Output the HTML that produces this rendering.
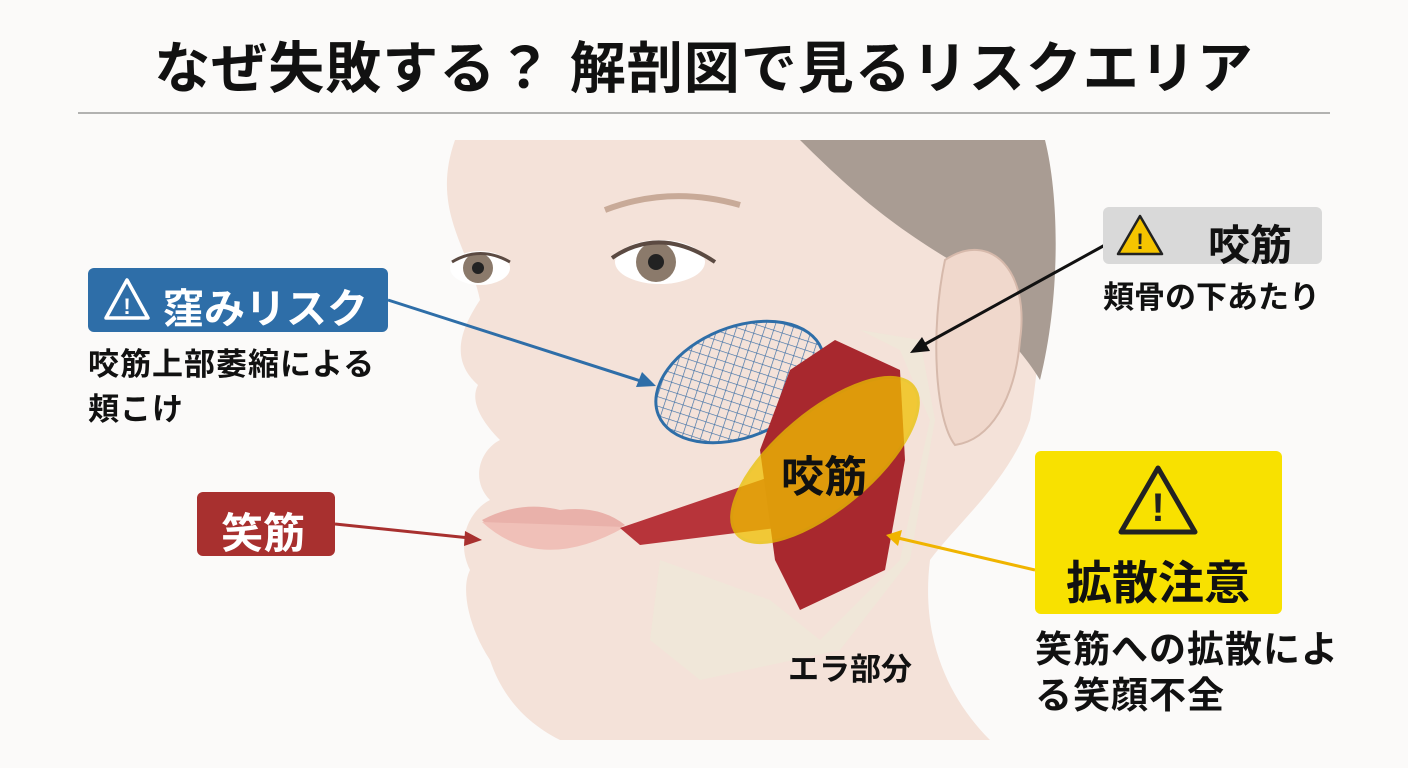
<!DOCTYPE html>
<html><head><meta charset="utf-8"><style>
body{margin:0;width:1408px;height:768px;background:#fbfaf9;overflow:hidden;font-family:"Liberation Sans","Noto Sans CJK JP",sans-serif;position:relative}
.t{position:absolute;white-space:nowrap;font-weight:bold}
</style></head><body>
<svg width="1408" height="768" style="position:absolute;left:0;top:0">
<defs>
<pattern id="mesh" width="9" height="9" patternUnits="userSpaceOnUse" patternTransform="rotate(40)">
<path d="M0 0H9M0 0V9" stroke="#3a6ea5" stroke-width="1.3"/></pattern>
</defs>
<line x1="78" y1="113" x2="1330" y2="113" stroke="#999" stroke-width="1.5"/>
<path d="M455 140 L1000 140 C1040 200 1050 300 1030 420 C1010 480 960 520 930 560 C920 640 950 700 990 740 L560 740 C520 720 500 690 490 660 C470 630 460 590 470 570 C455 540 470 510 490 500 C470 480 480 450 500 440 C480 420 470 400 478 385 C450 360 460 330 480 300 C470 250 430 210 455 140Z" fill="#f4e2d9"/>
<path d="M800 140 L1045 140 C1060 200 1060 300 1040 380 C1010 330 960 300 950 260 C900 230 860 200 800 140Z" fill="#a99c93"/>
<path d="M945 260 C990 230 1030 270 1020 340 C1015 400 990 440 955 445 C935 420 930 330 945 260Z" fill="#f0d8cc" stroke="#d6b9ab" stroke-width="2"/>
<path d="M660 560 L770 600 L820 640 L900 560 L930 420 L900 350 L860 330 L920 340 L935 420 L910 560 L840 650 L700 680 L650 640Z" fill="#efe9d8" opacity=".8"/>
<ellipse cx="480" cy="268" rx="30" ry="17" fill="#fff"/><circle cx="478" cy="268" r="15" fill="#8b7a6b"/><circle cx="478" cy="268" r="6" fill="#222"/>
<ellipse cx="660" cy="262" rx="45" ry="22" fill="#fff"/><circle cx="656" cy="262" r="20" fill="#8b7a6b"/><circle cx="656" cy="262" r="8" fill="#222"/>
<path d="M612 258 Q660 225 715 262" stroke="#5b4a42" stroke-width="4" fill="none"/>
<path d="M452 262 Q480 245 510 262" stroke="#5b4a42" stroke-width="3" fill="none"/>
<path d="M605 210 Q670 185 740 205" stroke="#c8aa98" stroke-width="6" fill="none"/>
<path d="M482 520 Q520 500 560 510 Q600 505 625 525 Q590 545 540 545 Q500 540 482 520Z" fill="#e9b1aa"/>
<path d="M482 522 Q540 575 625 527" fill="#f0c0b8"/>
<ellipse cx="740" cy="382" rx="88" ry="55" transform="rotate(-22 740 382)" fill="url(#mesh)" stroke="#2e6ea8" stroke-width="3"/>
<path d="M620 528 L790 470 L800 525 L640 545Z" fill="#b7343a"/>
<path d="M835 340 L900 370 L905 460 L885 570 L800 610 L775 560 L760 450 L790 370Z" fill="#a8282e"/>
<ellipse cx="825" cy="460" rx="115" ry="48" transform="rotate(-40 825 460)" fill="#f0c000" opacity=".75" stroke="#e8c000" stroke-width="3"/>
<line x1="388" y1="300" x2="650" y2="384" stroke="#2e6ea8" stroke-width="3"/>
<path d="M656 386 L636 387 L642 372Z" fill="#2e6ea8"/>
<line x1="1105" y1="245" x2="918" y2="348" stroke="#111" stroke-width="3"/>
<path d="M910 353 L922 337 L930 351Z" fill="#111"/>
<line x1="335" y1="524" x2="470" y2="538" stroke="#a8302f" stroke-width="3"/>
<path d="M482 540 L465 531 L464 546Z" fill="#a8302f"/>
<line x1="1035" y1="570" x2="898" y2="538" stroke="#f0b400" stroke-width="3"/>
<path d="M886 535 L902 530 L898 546Z" fill="#f0b400"/>
<rect x="88" y="268" width="300" height="64" rx="6" fill="#2e6ea8"/>
<path d="M127 280 L148 318 L106 318Z" fill="none" stroke="#fff" stroke-width="3.5" stroke-linejoin="round"/>
<rect x="1103" y="207" width="219" height="57" rx="6" fill="#d9d9d9"/>
<path d="M1140 216 L1162 254 L1118 254Z" fill="#f5c400" stroke="#222" stroke-width="2.5" stroke-linejoin="round"/>
<rect x="197" y="492" width="138" height="64" rx="6" fill="#a8302f"/>
<rect x="1035" y="451" width="247" height="163" rx="6" fill="#f8e100"/>
<path d="M1158 468 L1195 532 L1121 532Z" fill="none" stroke="#222" stroke-width="5" stroke-linejoin="round"/>
<text x="1158" y="521" font-size="40" font-weight="bold" text-anchor="middle" fill="#222" font-family="Liberation Sans">!</text>
<text x="1140" y="249" font-size="22" font-weight="bold" text-anchor="middle" fill="#222" font-family="Liberation Sans">!</text>
<text x="127" y="314" font-size="22" font-weight="bold" text-anchor="middle" fill="#fff" font-family="Liberation Sans">!</text>
</svg>
<div class="t" style="left:0;width:1408px;text-align:center;top:24px;font-size:56px;letter-spacing:1px;color:#111">なぜ失敗する？ 解剖図で見るリスクエリア</div>
<div class="t" style="left:163px;top:275px;font-size:41px;color:#fff">窪みリスク</div>
<div class="t" style="left:88px;top:342px;font-size:31px;letter-spacing:1px;color:#111;line-height:45px">咬筋上部萎縮による<br>頬こけ</div>
<div class="t" style="left:1208px;top:212px;font-size:42px;color:#111">咬筋</div>
<div class="t" style="left:1103px;top:272px;font-size:31px;color:#111">頬骨の下あたり</div>
<div class="t" style="left:221px;top:500px;font-size:42px;color:#fff">笑筋</div>
<div class="t" style="left:781px;top:443px;font-size:43px;color:#111">咬筋</div>
<div class="t" style="left:1066px;top:547px;font-size:46px;color:#111">拡散注意</div>
<div class="t" style="left:1035px;top:627px;font-size:37px;letter-spacing:1px;color:#111;line-height:46px">笑筋への拡散によ<br>る笑顔不全</div>
<div class="t" style="left:788px;top:644px;font-size:31px;color:#111">エラ部分</div>
</body></html>
